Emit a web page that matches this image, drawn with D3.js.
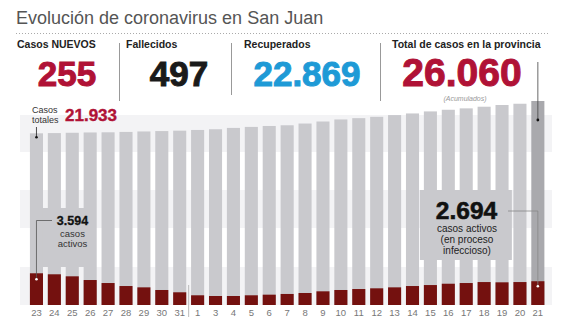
<!DOCTYPE html>
<html>
<head>
<meta charset="utf-8">
<script src="https://cdn.jsdelivr.net/npm/d3@7"></script>
<style>
  html, body { margin: 0; padding: 0; background: #fff; }
  svg { display: block; font-family: "Liberation Sans", Arial, sans-serif; }
</style>
</head>
<body>
<svg id="chart" width="563" height="317"></svg>
<script>
// ---- data ----
const days = ["23","24","25","26","27","28","29","30","31","1","3","4","5","6","7","8","9","10","11","12","13","14","15","16","17","18","19","20","21"];
const totalCases = [21933,21960,22000,22040,22060,22110,22170,22220,22270,22360,22450,22620,22750,22870,22960,23180,23440,23700,23870,24040,24260,24470,24730,24940,25120,25330,25550,25710,26060];
const activeCases = [3594,3480,3250,2830,2490,2150,2000,1700,1440,1100,1020,1020,1100,1170,1250,1360,1550,1700,1810,1890,2000,2150,2260,2410,2490,2600,2570,2600,2694];
const headerLabels = ["Casos NUEVOS","Fallecidos","Recuperados","Total de casos en la provincia"];
const headerValues = ["255","497","22.869","26.060"];
const headerColors = ["#b01236","#1a1a1a","#1e9ad6","#b01236"];
const title = "Evolución de coronavirus en San Juan";

const svg = d3.select("#chart");
const W = 563, H = 317;
const base = 305;

// ---- scales ----
const x = d3.scaleBand().domain(days).range([27.5, 546.8]).paddingInner(0.27).paddingOuter(0.135);
const yTotal = d3.scaleLinear().domain([0, 26060]).range([base, 101]);
const yActive = d3.scaleLinear().domain([0, 4000]).range([base, base - 35.3]);

// ---- title ----
svg.append("text").attr("x", 16).attr("y", 23.5).attr("font-size", 18).attr("fill", "#555").text(title);
svg.append("line").attr("x1", 16).attr("x2", 550).attr("y1", 33.5).attr("y2", 33.5)
  .attr("stroke", "#aaa").attr("stroke-width", 1).attr("stroke-dasharray", "1,2");

// ---- header ----
const labelX = [17, 126, 244, 392];
const valueCX = [67, 179, 307, 462];
const valueSize = [35, 35, 35, 39];
const valueY = [86, 86, 86, 85.5];
const sepX = [119.5, 231.5, 380.5];
const sepY2 = [101, 95, 101];
headerLabels.forEach((l, i) => {
  svg.append("text").attr("x", labelX[i]).attr("y", 48).attr("font-size", 10.5).attr("font-weight", "bold")
    .attr("fill", "#222").text(l);
  svg.append("text").attr("x", valueCX[i]).attr("y", valueY[i]).attr("text-anchor", "middle")
    .attr("font-size", valueSize[i]).attr("font-weight", "bold").attr("fill", headerColors[i])
    .attr("stroke", headerColors[i]).attr("stroke-width", 1).text(headerValues[i]);
});
sepX.forEach((sx, i) => {
  svg.append("line").attr("x1", sx).attr("x2", sx).attr("y1", 43).attr("y2", sepY2[i]).attr("stroke", "#999").attr("stroke-width", 1);
});
svg.append("text").attr("x", 465).attr("y", 100.5).attr("text-anchor", "middle").attr("font-size", 7)
  .attr("font-style", "italic").attr("fill", "#999").text("(Acumulados)");

// ---- background bands ----
const bandEdges = [[115, 152], [190, 228], [267, base]];
bandEdges.forEach(b => {
  svg.append("rect").attr("x", 20).attr("width", 532).attr("y", b[0]).attr("height", b[1] - b[0]).attr("fill", "#f3f3f5");
});

// ---- bars ----
const n = days.length;
svg.append("g").selectAll("rect").data(days).join("rect")
  .attr("x", d => x(d)).attr("width", x.bandwidth())
  .attr("y", (d, i) => yTotal(totalCases[i])).attr("height", (d, i) => base - yTotal(totalCases[i]))
  .attr("fill", (d, i) => i === n - 1 ? "#a9a9ad" : "#c9c9cd");

// label boxes (bar-coloured) behind annotations
svg.append("rect").attr("x", x(days[1]) - 5).attr("y", 208).attr("width", 52).attr("height", 59).attr("fill", "#c9c9cd");
svg.append("rect").attr("x", x(days[22]) - 4).attr("y", 190).attr("width", 92).attr("height", 70).attr("fill", "#c9c9cd");

svg.append("g").selectAll("rect").data(days).join("rect")
  .attr("x", d => x(d)).attr("width", x.bandwidth())
  .attr("y", (d, i) => yActive(activeCases[i])).attr("height", (d, i) => base - yActive(activeCases[i]))
  .attr("fill", "#74110f");

// ---- axis ----
const axis = svg.append("g").attr("transform", `translate(0,${base})`)
  .call(d3.axisBottom(x).tickSize(0).tickPadding(4));
axis.select(".domain").remove();
axis.selectAll("text").attr("font-size", 9.5).attr("fill", "#777").attr("font-family", "Liberation Sans, Arial, sans-serif");

// month separator
const sepM = (x(days[8]) + x.bandwidth() + x(days[9])) / 2;
svg.append("line").attr("x1", sepM).attr("x2", sepM).attr("y1", 285).attr("y2", H).attr("stroke", "#bbb").attr("stroke-width", 1);

// ---- annotations ----
const cx0 = x(days[0]) + x.bandwidth() / 2;
const cxN = x(days[n - 1]) + x.bandwidth() / 2;

// Casos totales
svg.append("text").attr("x", 32).attr("y", 113).attr("font-size", 9).attr("fill", "#333").text("Casos");
svg.append("text").attr("x", 32).attr("y", 123).attr("font-size", 9).attr("fill", "#333").text("totales");
svg.append("text").attr("x", 65).attr("y", 121).attr("font-size", 17).attr("font-weight", "bold")
  .attr("fill", "#b01236").attr("stroke", "#b01236").attr("stroke-width", 0.4).text("21.933");
svg.append("line").attr("x1", cx0).attr("x2", cx0).attr("y1", 127).attr("y2", yTotal(totalCases[0]) + 4).attr("stroke", "#222").attr("stroke-width", 0.8);
svg.append("circle").attr("cx", cx0).attr("cy", yTotal(totalCases[0]) + 4).attr("r", 1.3).attr("fill", "#111");

// total pointer (last bar)
svg.append("line").attr("x1", cxN).attr("x2", cxN).attr("y1", 62).attr("y2", yTotal(totalCases[n - 1]) + 19).attr("stroke", "#444").attr("stroke-width", 0.8);
svg.append("circle").attr("cx", cxN).attr("cy", yTotal(totalCases[n - 1]) + 19).attr("r", 1.4).attr("fill", "#111");

// 3.594 casos activos
const yA0 = yActive(activeCases[0]) + 6;
svg.append("path").attr("d", `M52,220.5H${cx0}V${yA0}`).attr("fill", "none").attr("stroke", "#555").attr("stroke-width", 0.8);
svg.append("circle").attr("cx", cx0).attr("cy", yA0).attr("r", 1.3).attr("fill", "#fff");
svg.append("text").attr("x", 72.5).attr("y", 225).attr("text-anchor", "middle").attr("font-size", 12.5).attr("font-weight", "bold")
  .attr("fill", "#111").attr("stroke", "#111").attr("stroke-width", 0.3).text("3.594");
svg.append("text").attr("x", 72.5).attr("y", 237).attr("text-anchor", "middle").attr("font-size", 9.5).attr("fill", "#333").text("casos");
svg.append("text").attr("x", 72.5).attr("y", 247).attr("text-anchor", "middle").attr("font-size", 9.5).attr("fill", "#333").text("activos");

// 2.694 casos activos
const yAN = yActive(activeCases[n - 1]) + 5;
svg.append("path").attr("d", `M508,211H${cxN}V${yAN}`).attr("fill", "none").attr("stroke", "#888").attr("stroke-width", 0.8);
svg.append("circle").attr("cx", cxN).attr("cy", yAN).attr("r", 1.3).attr("fill", "#fff");
svg.append("text").attr("x", 466.5).attr("y", 218.5).attr("text-anchor", "middle").attr("font-size", 24.5).attr("font-weight", "bold")
  .attr("fill", "#111").attr("stroke", "#111").attr("stroke-width", 0.6).text("2.694");
["casos activos", "(en proceso", "infeccioso)"].forEach((t, i) => {
  svg.append("text").attr("x", 467).attr("y", 232 + i * 10.8).attr("text-anchor", "middle").attr("font-size", 10).attr("fill", "#222").text(t);
});
</script>
</body>
</html>
